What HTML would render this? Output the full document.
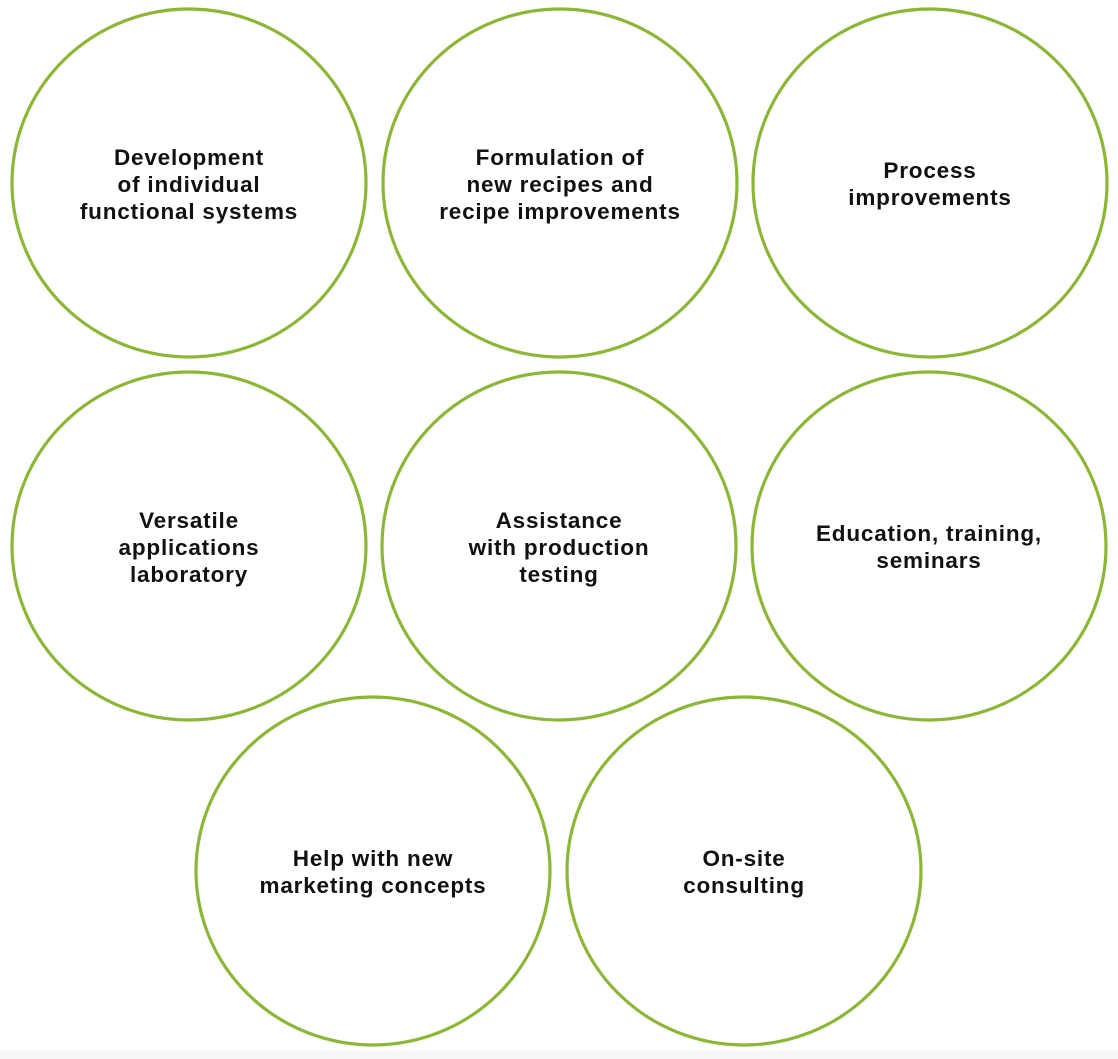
<!DOCTYPE html>
<html><head><meta charset="utf-8"><style>
html,body{margin:0;padding:0;background:#fff;}
svg{display:block}
text{font-family:"Liberation Sans",Arial,sans-serif;font-weight:bold;font-size:22.5px;letter-spacing:0.8px;fill:#111;text-anchor:middle;}
</style></head><body>
<svg width="1118" height="1059" viewBox="0 0 1118 1059" xmlns="http://www.w3.org/2000/svg">
<rect x="0" y="1051" width="1118" height="8" fill="#f7f7f7"/>
<g fill="none" stroke="#8cb635" stroke-width="3.2">
<ellipse cx="189" cy="183" rx="177" ry="174"/>
<ellipse cx="560" cy="183" rx="177" ry="174"/>
<ellipse cx="930" cy="183" rx="177" ry="174"/>
<ellipse cx="189" cy="546" rx="177" ry="174"/>
<ellipse cx="559" cy="546" rx="177" ry="174"/>
<ellipse cx="929" cy="546" rx="177" ry="174"/>
<ellipse cx="373" cy="871" rx="177" ry="174"/>
<ellipse cx="744" cy="871" rx="177" ry="174"/>
</g>
<text x="189" y="165">Development</text>
<text x="189" y="192">of individual</text>
<text x="189" y="219">functional systems</text>
<text x="560" y="165">Formulation of</text>
<text x="560" y="192">new recipes and</text>
<text x="560" y="219">recipe improvements</text>
<text x="930" y="178">Process</text>
<text x="930" y="205">improvements</text>
<text x="189" y="528">Versatile</text>
<text x="189" y="555">applications</text>
<text x="189" y="582">laboratory</text>
<text x="559" y="528">Assistance</text>
<text x="559" y="555">with production</text>
<text x="559" y="582">testing</text>
<text x="929" y="541">Education, training,</text>
<text x="929" y="568">seminars</text>
<text x="373" y="866">Help with new</text>
<text x="373" y="893">marketing concepts</text>
<text x="744" y="866">On-site</text>
<text x="744" y="893">consulting</text>
</svg>
</body></html>
